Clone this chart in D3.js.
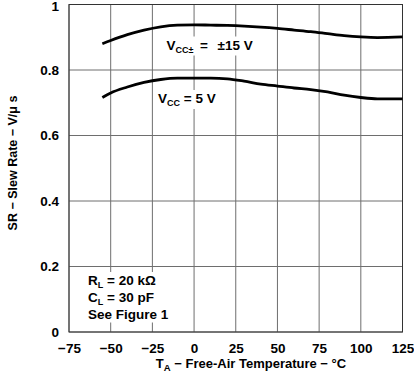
<!DOCTYPE html>
<html>
<head>
<meta charset="utf-8">
<script src="https://cdn.jsdelivr.net/npm/d3@7"></script>
<style>
  body { margin: 0; background: #fff; }
  text { font-family: "Liberation Sans", Arial, sans-serif; font-weight: bold; fill: #000; }
</style>
</head>
<body>
<div id="chart"></div>
<script>
var temps = [-55, -50, -40, -30, -20, -10, 0, 10, 20, 30, 40, 50, 60, 70, 80, 90, 100, 110, 125];
var vcc15 = [0.880, 0.890, 0.908, 0.922, 0.932, 0.937, 0.938, 0.937, 0.936, 0.934, 0.931, 0.927, 0.922, 0.917, 0.911, 0.905, 0.901, 0.899, 0.901];
var vcc5 = [0.716, 0.730, 0.748, 0.762, 0.771, 0.775, 0.775, 0.775, 0.773, 0.766, 0.757, 0.751, 0.745, 0.740, 0.733, 0.723, 0.716, 0.712, 0.712];
var xTicks = [-75, -50, -25, 0, 25, 50, 75, 100, 125];
var yTicks = [0, 0.2, 0.4, 0.6, 0.8, 1];

var margin = { top: 4.5, bottom: 41, left: 69, right: 11.5 },
  width = 414 - margin.left - margin.right,
  height = 373 - margin.top - margin.bottom;

var svg = d3.select("#chart")
  .append("svg")
  .attr("width", 414)
  .attr("height", 373)
  .append("g")
  .attr("transform", "translate(" + margin.left + "," + margin.top + ")");

var x = d3.scaleLinear().domain([-75, 125]).range([0, width]);
var y = d3.scaleLinear().domain([0, 1]).range([height, 0]);

// grid
svg.selectAll(".vgrid").data(xTicks).enter().append("line")
  .attr("x1", function(d) { return x(d); })
  .attr("x2", function(d) { return x(d); })
  .attr("y1", 0).attr("y2", height)
  .attr("stroke", "#6e6e6e").attr("stroke-width", 1);
svg.selectAll(".hgrid").data(yTicks).enter().append("line")
  .attr("x1", 0).attr("x2", width)
  .attr("y1", function(d) { return y(d); })
  .attr("y2", function(d) { return y(d); })
  .attr("stroke", "#6e6e6e").attr("stroke-width", 1);

// tick labels
var xAxis = d3.axisBottom(x).tickValues(xTicks).tickSize(0).tickPadding(11)
  .tickFormat(function(d) { return d < 0 ? "\u2212" + Math.abs(d) : d; });
var gx = svg.append("g").attr("transform", "translate(0," + height + ")").call(xAxis);
gx.select(".domain").remove();
gx.selectAll("text").attr("font-size", 13.5).attr("font-family", null).attr("fill", "#000");

var yAxis = d3.axisLeft(y).tickValues(yTicks).tickSize(0).tickPadding(10)
  .tickFormat(function(d) { return d === 0 || d === 1 ? d : d.toFixed(1); });
var gy = svg.append("g").call(yAxis);
gy.select(".domain").remove();
gy.selectAll("text").attr("font-size", 13.5).attr("font-family", null).attr("fill", "#000")
  .attr("dy", function(d) { return d === 1 ? "0.42em" : "0.32em"; });

// frame
svg.append("rect").attr("width", width).attr("height", height)
  .attr("fill", "none").attr("stroke", "#333").attr("stroke-width", 1);

var line = d3.line()
  .x(function(d, i) { return x(temps[i]); })
  .y(function(d) { return y(d); })
  .curve(d3.curveMonotoneX);

[vcc15, vcc5].forEach(function(s) {
  svg.append("path").datum(s).attr("d", line)
    .attr("fill", "none").attr("stroke", "#000").attr("stroke-width", 2.8);
});

function boxedText(build, pad) {
  var g = svg.append("g");
  var t = g.append("text").attr("font-size", 13.5);
  build(t);
  var b = t.node().getBBox();
  g.insert("rect", "text").attr("x", b.x - pad).attr("y", b.y - 1)
    .attr("width", b.width + 2 * pad).attr("height", b.height + 2).attr("fill", "#fff");
}

var ox = margin.left, oy = margin.top;

boxedText(function(t) {
  t.append("tspan").attr("x", 166.5 - ox).attr("y", 49.5 - oy).text("V");
  t.append("tspan").attr("font-size", 9).attr("dy", 3).text("CC\u00b1");
  t.append("tspan").attr("x", 200 - ox).attr("dy", -3).text("=");
  t.append("tspan").attr("x", 217.5 - ox).text("\u00b115 V");
}, 3);

boxedText(function(t) {
  t.append("tspan").attr("x", 158 - ox).attr("y", 103 - oy).text("V");
  t.append("tspan").attr("font-size", 9).attr("dy", 3).text("CC");
  t.append("tspan").attr("dy", -3).text(" = 5 V");
}, 3);

boxedText(function(t) {
  var l1 = t.append("tspan").attr("x", 88 - ox).attr("y", 285 - oy);
  l1.append("tspan").text("R");
  l1.append("tspan").attr("font-size", 9).attr("dy", 3).text("L");
  l1.append("tspan").attr("dy", -3).text(" = 20 k\u03a9");
  var l2 = t.append("tspan").attr("x", 88 - ox).attr("y", 301.5 - oy);
  l2.append("tspan").text("C");
  l2.append("tspan").attr("font-size", 9).attr("dy", 3).text("L");
  l2.append("tspan").attr("dy", -3).text(" = 30 pF");
  t.append("tspan").attr("x", 88 - ox).attr("y", 318.5 - oy).text("See Figure 1");
}, 5);

// axis titles
var xt = svg.append("text").attr("x", 251 - ox).attr("y", 368 - oy)
  .attr("text-anchor", "middle").attr("font-size", 13);
xt.append("tspan").text("T");
xt.append("tspan").attr("font-size", 9.5).attr("dy", 3).text("A");
xt.append("tspan").attr("dy", -3).text(" \u2212 Free-Air Temperature \u2212 \u00b0C");

svg.append("text")
  .attr("transform", "translate(" + (17 - ox) + "," + (163 - oy) + ") rotate(-90)")
  .attr("text-anchor", "middle").attr("font-size", 12.5)
  .text("SR \u2212 Slew Rate \u2212 V/\u03bc s");
</script>
</body>
</html>
